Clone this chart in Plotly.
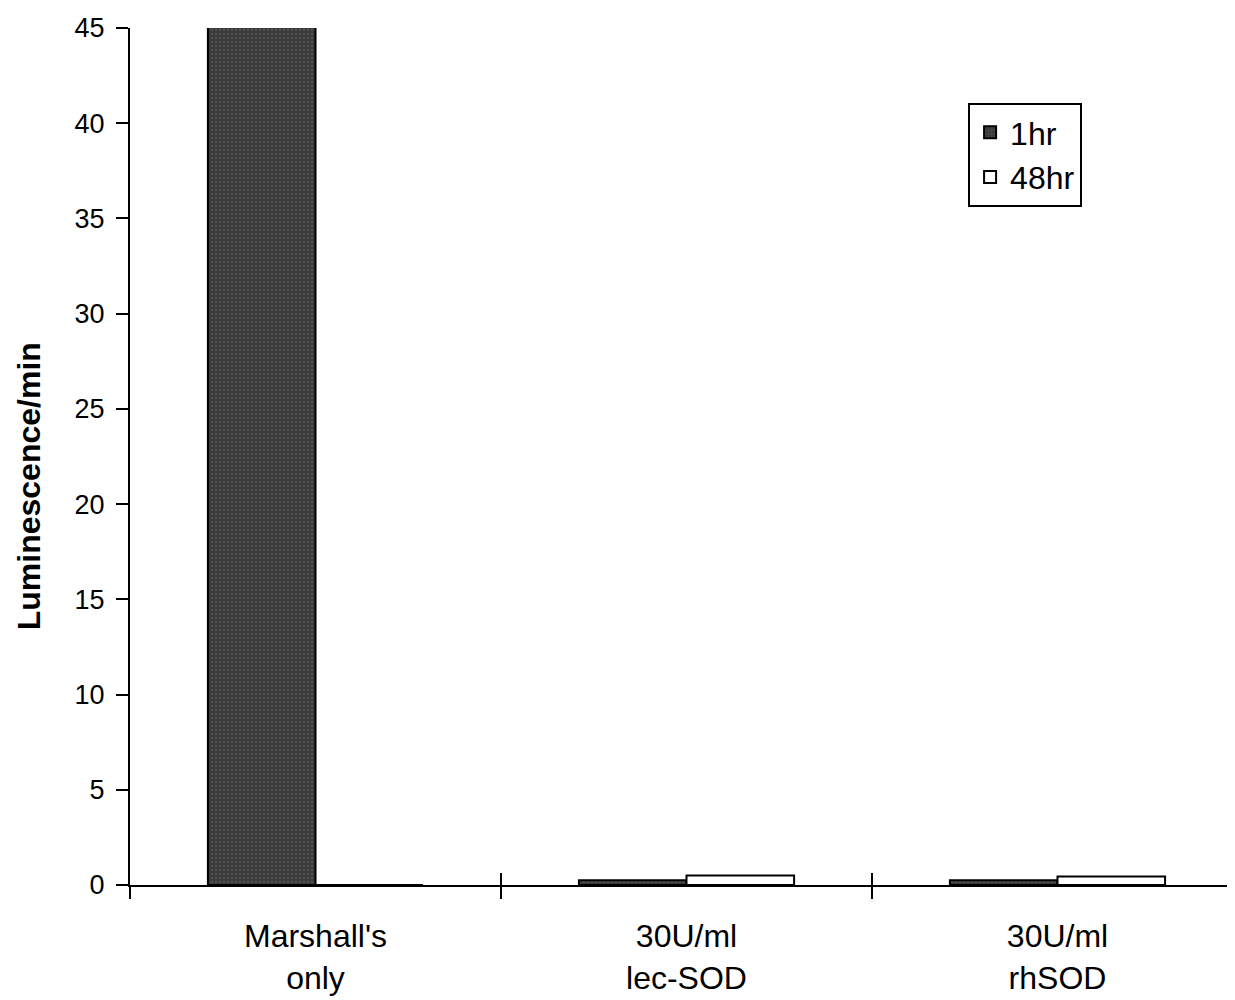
import plotly.graph_objects as go

categories = ["Marshall's<br>only", "30U/ml<br>lec-SOD", "30U/ml<br>rhSOD"]
series_names = ["1hr", "48hr"]
values_1hr = [45.2, 0.25, 0.25]
values_48hr = [0.0, 0.5, 0.45]
y_ticks = [0, 5, 10, 15, 20, 25, 30, 35, 40, 45]
y_title = "Luminescence/min"

FONT = "Liberation Sans, Arial, Helvetica, sans-serif"

fig = go.Figure()
fig.add_trace(go.Bar(
    name=series_names[0], x=categories, y=values_1hr,
    marker=dict(color="#3a3a3a", line=dict(color="black", width=2),
                pattern=dict(shape=".", fgcolor="#6a6a6a", size=4, solidity=0.25)),
    cliponaxis=False,
))
fig.add_trace(go.Bar(
    name=series_names[1], x=categories, y=values_48hr,
    marker=dict(color="white", line=dict(color="black", width=2)),
    cliponaxis=False,
))
# helper (invisible) trace so that the overlaid axis draws the upward half of the boundary ticks
fig.add_trace(go.Scatter(x=categories, y=[None] * len(categories), xaxis="x2",
                         mode="markers", showlegend=False, hoverinfo="skip"))

fig.update_layout(
    width=1235, height=1000,
    margin=dict(l=122, r=0, t=20, b=123),
    paper_bgcolor="white", plot_bgcolor="white",
    barmode="group", bargap=0.42, bargroupgap=0,
    font=dict(family=FONT, color="black"),
    showlegend=True,
    legend=dict(x=0.753, y=0.9125, xanchor="left", yanchor="top",
                bordercolor="black", borderwidth=2, bgcolor="white",
                font=dict(size=32, family=FONT), tracegroupgap=6),
    xaxis=dict(
        type="category", categoryorder="array", categoryarray=categories,
        range=[-0.5, 2.5], showline=True, linecolor="black", linewidth=2,
        ticks="outside", tickson="boundaries", ticklen=12, tickwidth=2, tickcolor="black",
        tickfont=dict(size=32, family=FONT), showgrid=False, zeroline=False,
        ticklabelstandoff=22,
    ),
    xaxis2=dict(
        type="category", categoryorder="array", categoryarray=categories,
        overlaying="x", anchor="y", side="bottom",
        range=[-0.5, 2.5], showline=False,
        ticks="inside", tickson="boundaries", ticklen=12, tickwidth=2, tickcolor="black",
        showticklabels=False, showgrid=False, zeroline=False,
    ),
    yaxis=dict(
        range=[0, 45], tickmode="array", tickvals=y_ticks,
        showline=True, linecolor="black", linewidth=2,
        ticks="outside", ticklen=12, tickwidth=2, tickcolor="black",
        tickfont=dict(size=27, family=FONT), showgrid=False, zeroline=False,
        ticklabelstandoff=6,
    ),
    annotations=[dict(
        text=y_title, textangle=-90, xref="paper", yref="paper",
        x=-0.0905, y=0.4656, xanchor="center", yanchor="middle", showarrow=False,
        font=dict(size=32, family=FONT, weight="bold"),
    )],
)

fig.write_html("out.html")
